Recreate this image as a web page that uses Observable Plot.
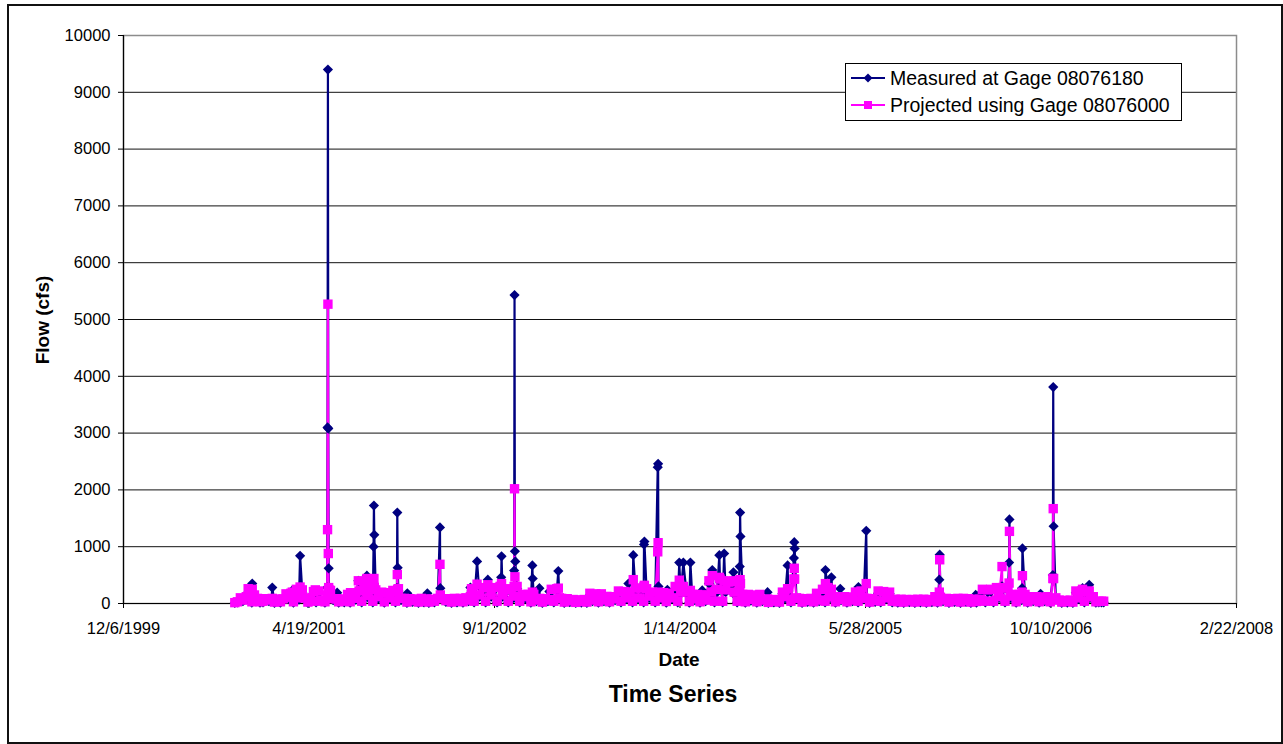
<!DOCTYPE html>
<html>
<head>
<meta charset="utf-8">
<script src="https://cdn.jsdelivr.net/npm/d3@7"></script>
<script src="https://cdn.jsdelivr.net/npm/@observablehq/plot@0.6"></script>
<style>
html, body { margin: 0; padding: 0; background: #fff; }
#wrap { position: relative; width: 1283px; height: 744px; overflow: hidden; font-family: "Liberation Sans", Arial, sans-serif; color: #000; }
#frame { position: absolute; left: 7px; top: 4px; width: 1276px; height: 740px; border: 2px solid #111; box-sizing: border-box; }
#chart { position: absolute; left: 0; top: 0; }
.ttl { position: absolute; font-weight: bold; white-space: nowrap; text-align: center; }
#legend { position: absolute; left: 845px; top: 63px; }
</style>
</head>
<body>
<div id="wrap">
  <div id="frame"></div>
  <div id="chart"></div>
  <div class="ttl" id="xlab" style="left:579px;top:650px;width:200px;font-size:19px;line-height:20px;"></div>
  <div class="ttl" id="title" style="left:523px;top:682px;width:300px;font-size:23px;line-height:24px;"></div>
  <div class="ttl" id="ylab" style="left:43px;top:320px;font-size:19px;line-height:20px;transform:translate(-50%,-50%) rotate(-90deg);"></div>
</div>
<script>
// ---------- chart text ----------
const chartTitle = "Time Series";
const xTitle = "Date";
const yTitle = "Flow (cfs)";
const seriesNames = ["Measured at Gage 08076180", "Projected using Gage 08076000"];
const seriesColors = ["#000080", "#FF00FF"];

// ---------- axis ticks ----------
const xTickLabels = ["12/6/1999", "4/19/2001", "9/1/2002", "1/14/2004", "5/28/2005", "10/10/2006", "2/22/2008"];
const yTicks = [0, 1000, 2000, 3000, 4000, 5000, 6000, 7000, 8000, 9000, 10000];

// ---------- baseline flows, read roughly weekly (days 01, 08, 16, 23 of each month) ----------
const baseMonths = [
  "2000-10","2000-11","2000-12",
  "2001-01","2001-02","2001-03","2001-04","2001-05","2001-06","2001-07","2001-08","2001-09","2001-10","2001-11","2001-12",
  "2002-01","2002-02","2002-03","2002-04","2002-05","2002-06","2002-07","2002-08","2002-09","2002-10","2002-11","2002-12",
  "2003-01","2003-02","2003-03","2003-04","2003-05","2003-06","2003-07","2003-08","2003-09","2003-10","2003-11","2003-12",
  "2004-01","2004-02","2004-03","2004-04","2004-05","2004-06","2004-07","2004-08","2004-09","2004-10","2004-11","2004-12",
  "2005-01","2005-02","2005-03","2005-04","2005-05","2005-06","2005-07","2005-08","2005-09","2005-10","2005-11","2005-12",
  "2006-01","2006-02","2006-03","2006-04","2006-05","2006-06","2006-07","2006-08","2006-09","2006-10","2006-11","2006-12",
  "2007-01","2007-02"
];
const baseDays = ["01", "08", "16", "23"];

const measuredBase = [
  [10,20,80,40],[100,200,15,120],[70,15,20,60],
  [40,70,10,60],[15,60,130,90],[140,15,200,70],[200,70,10,60],[180,20,190,40],[15,200,180,60],[60,15,60,20],[130,15,120,70],[180,20,260,110],[250,20,200,90],[170,15,160,80],[190,20,220,60],
  [60,10,60,30],[50,10,70,20],[60,10,50,20],[70,15,60,30],[60,10,60,20],[60,15,80,40],[220,20,240,120],[240,20,240,120],[240,20,260,120],[220,20,200,100],[260,20,130,90],[130,15,140,40],
  [70,10,60,40],[210,20,220,80],[60,10,60,25],[50,10,45,15],[50,10,150,40],[150,15,140,40],[100,15,100,60],[180,20,180,80],[170,20,230,80],[230,20,220,100],[170,20,160,80],[160,15,150,80],
  [250,20,170,80],[170,15,130,60],[130,15,120,40],[350,160,20,200],[380,20,200,330],[330,160,20,220],[130,15,130,50],[120,15,130,40],[50,10,45,20],[50,10,170,90],[220,20,210,80],[60,10,60,30],
  [70,15,150,40],[210,20,240,100],[100,15,100,60],[100,15,100,40],[170,20,190,80],[70,10,60,30],[180,20,180,80],[170,20,55,15],[55,10,50,25],[50,10,55,20],[55,10,50,25],[100,15,90,40],
  [70,10,60,30],[70,10,70,30],[65,10,55,15],[55,210,20,200],[210,20,240,100],[240,20,230,100],[130,15,130,60],[130,15,100,40],[100,15,100,40],[100,15,170,80],[40,10,35,15],[40,10,190,80],
  [190,20,180,100],[100,15,20,20]
];

const projectedBase = [
  [15,30,100,60],[120,240,30,150],[90,30,40,85],
  [60,85,25,80],[30,80,170,110],[180,30,250,100],[240,100,25,85],[210,40,220,60],[30,240,230,85],[85,30,80,40],[160,30,150,90],[220,40,300,140],[300,40,240,120],[200,30,190,100],[230,40,260,90],
  [90,25,85,50],[80,25,90,40],[80,25,75,40],[90,30,85,50],[85,25,90,40],[90,30,100,60],[260,40,280,150],[280,40,280,150],[280,40,300,150],[260,40,240,130],[300,40,160,120],[160,30,160,60],
  [90,25,85,60],[250,40,260,100],[90,25,85,45],[70,20,65,35],[70,25,180,60],[180,30,170,60],[125,30,120,80],[220,40,210,100],[200,40,270,100],[270,40,260,130],[200,40,190,100],[190,35,180,100],
  [300,40,200,100],[200,35,160,80],[160,30,150,60],[400,200,40,250],[430,40,240,380],[380,200,40,260],[160,30,160,70],[150,30,160,60],[70,20,65,40],[70,25,200,120],[260,40,250,100],[90,25,85,50],
  [90,30,180,60],[250,40,280,120],[120,30,110,70],[120,30,115,60],[200,40,220,100],[90,25,85,50],[220,40,210,100],[200,40,75,30],[75,25,70,45],[70,25,75,40],[75,25,70,45],[120,30,110,60],
  [90,25,85,50],[90,25,90,50],[85,25,75,35],[75,250,40,240],[250,40,280,120],[280,40,270,130],[160,30,160,80],[160,30,120,60],[120,30,115,60],[120,30,200,100],[60,25,55,35],[60,25,220,100],
  [220,40,210,120],[120,30,40,40]
];

// ---------- storm events (daily readings) ----------
const eventDates = [
  "2000-11-06","2000-11-17",
  "2001-01-10","2001-03-05","2001-03-26","2001-05-06",
  "2001-06-07","2001-06-08","2001-06-09","2001-06-10","2001-06-11","2001-06-12",
  "2001-07-04","2001-08-09","2001-08-30","2001-09-22",
  "2001-10-10","2001-10-11","2001-10-12",
  "2001-12-12","2001-12-13","2001-12-14",
  "2002-01-09","2002-03-04","2002-04-07","2002-04-08",
  "2002-06-28","2002-07-16","2002-08-14","2002-09-19","2002-09-20",
  "2002-10-24","2002-10-25","2002-10-26","2002-10-27",
  "2002-12-12","2002-12-13","2002-12-31",
  "2003-01-27","2003-02-20","2003-06-01",
  "2003-08-28","2003-09-10","2003-10-09","2003-10-10",
  "2003-11-15","2003-11-16","2003-11-17","2003-12-11",
  "2004-01-12","2004-01-23","2004-02-11","2004-03-14",
  "2004-04-10","2004-04-29","2004-05-12","2004-06-06",
  "2004-06-23","2004-06-24","2004-06-25",
  "2004-09-06","2004-10-30",
  "2004-11-16","2004-11-17","2004-11-18",
  "2005-02-09","2005-02-25","2005-03-21","2005-05-09","2005-05-30",
  "2005-12-13","2005-12-14","2006-03-21","2006-05-31",
  "2006-06-19","2006-06-20","2006-07-24","2006-07-25","2006-09-12",
  "2006-10-15","2006-10-16","2006-10-17",
  "2007-01-03","2007-01-21","2007-03-01"
];
const eventMeasured = [
  200, 350,
  280, 230, 840, 200,
  280, 3100, 9400, 3080, 620, 270,
  190, 150, 400, 490,
  1000, 1725, 1210,
  270, 1600, 630,
  180, 180, 1340, 270,
  280, 740, 420, 460, 830,
  580, 5430, 920, 740,
  670, 440, 270,
  210, 570, 150,
  350, 850, 1040, 1090,
  2400, 2460, 300, 240,
  720, 720, 720, 230,
  590, 850, 880, 550,
  650, 1600, 1180,
  200, 670,
  800, 1080, 970,
  590, 460, 260, 290, 1280,
  420, 860, 150, 300,
  720, 1480, 270, 970, 170,
  500, 3810, 1360,
  270, 330, 20
];
const eventProjected = [
  260, 250,
  90, 200, 290, 240,
  150, 1300, 5270, 880, 280, 240,
  80, 190, 400, 440,
  300, 440, 280,
  200, 510, 250,
  70, 70, 690, 150,
  120, 340, 330, 300, 350,
  300, 2020, 470, 300,
  200, 180, 80,
  70, 270, 170,
  200, 420, 300, 320,
  910, 1070, 200, 150,
  410, 300, 230, 150,
  490, 460, 400, 400,
  300, 420, 350,
  80, 260,
  430, 620, 430,
  350, 250, 120, 200, 350,
  200, 770, 70, 650,
  360, 1270, 200, 490, 100,
  440, 1670, 440,
  250, 220, 40
];

// ---------- build table ----------
const parseISO = s => new Date(s + "T00:00:00Z");
const parseMDY = s => { const [m, d, y] = s.split("/").map(Number); return new Date(Date.UTC(y, m - 1, d)); };
const rowMap = new Map();
baseMonths.forEach((m, i) => baseDays.forEach((d, j) => {
  const key = `${m}-${d}`;
  rowMap.set(key, {date: parseISO(key), measured: measuredBase[i][j], projected: projectedBase[i][j]});
}));
eventDates.forEach((k, i) => rowMap.set(k, {date: parseISO(k), measured: eventMeasured[i], projected: eventProjected[i]}));
const data = Array.from(rowMap.values()).sort((a, b) => a.date - b.date);

const xTicks = xTickLabels.map(parseMDY);
const fmt = d => `${d.getUTCMonth() + 1}/${d.getUTCDate()}/${d.getUTCFullYear()}`;

const chart = Plot.plot({
  width: 1283,
  height: 744,
  marginLeft: 123,
  marginRight: 47,
  marginTop: 35,
  marginBottom: 141,
  style: {fontFamily: '"Liberation Sans", Arial, sans-serif', fontSize: "16.5px", color: "#000", background: "transparent", overflow: "visible"},
  x: {type: "utc", domain: [xTicks[0], xTicks[xTicks.length - 1]]},
  y: {domain: [yTicks[0], yTicks[yTicks.length - 1]]},
  marks: [
    Plot.gridY(yTicks.slice(1, -1), {stroke: "#111", strokeOpacity: 1, strokeWidth: 1}),
    Plot.frame({stroke: "#8c8c8c", strokeWidth: 1.5}),
    Plot.ruleX([xTicks[0]], {stroke: "#000", strokeWidth: 1.2}),
    Plot.ruleY([yTicks[0]], {stroke: "#000", strokeWidth: 1.2}),
    Plot.axisY({ticks: yTicks, tickSize: 5, tickPadding: 8, fontSize: 16.5, label: null, tickFormat: d => String(d)}),
    Plot.axisX({ticks: xTicks, tickSize: 5, tickPadding: 14, fontSize: 16.5, label: null, tickFormat: fmt}),
    Plot.line(data, {x: "date", y: "measured", stroke: seriesColors[0], strokeWidth: 2.2}),
    Plot.line(data, {x: "date", y: "projected", stroke: seriesColors[1], strokeWidth: 2.2}),
    Plot.dot(data, {x: "date", y: "measured", symbol: "diamond2", r: 4.6, fill: seriesColors[0], stroke: "none"}),
    Plot.dot(data, {x: "date", y: "projected", symbol: "square", r: 5.3, fill: seriesColors[1], stroke: "none"})
  ]
});
document.getElementById("chart").appendChild(chart);

document.getElementById("xlab").textContent = xTitle;
document.getElementById("title").textContent = chartTitle;
document.getElementById("ylab").textContent = yTitle;

// ---------- legend ----------
const ns = "http://www.w3.org/2000/svg";
const lg = document.createElementNS(ns, "svg");
lg.setAttribute("id", "legend");
lg.setAttribute("width", 337);
lg.setAttribute("height", 58);
lg.innerHTML =
  `<rect x="0.5" y="0.5" width="336" height="57" fill="#fff" stroke="#000" stroke-width="1"/>` +
  `<line x1="6" x2="40" y1="15" y2="15" stroke="${seriesColors[0]}" stroke-width="2"/>` +
  `<path d="M23,10.5L27.5,15L23,19.5L18.5,15Z" fill="${seriesColors[0]}"/>` +
  `<text x="45" y="22" font-size="19.5" font-family="Liberation Sans, Arial, sans-serif" fill="#000">${seriesNames[0]}</text>` +
  `<line x1="6" x2="40" y1="42" y2="42" stroke="${seriesColors[1]}" stroke-width="2"/>` +
  `<rect x="19" y="38" width="8" height="8" fill="${seriesColors[1]}"/>` +
  `<text x="45" y="49" font-size="19.5" font-family="Liberation Sans, Arial, sans-serif" fill="#000">${seriesNames[1]}</text>`;
document.getElementById("wrap").appendChild(lg);
</script>
</body>
</html>
